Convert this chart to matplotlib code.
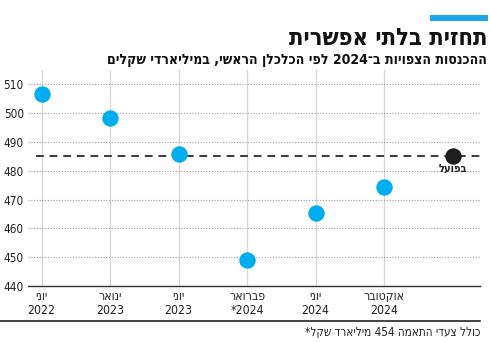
import re
import matplotlib
matplotlib.use("Agg")
import matplotlib.pyplot as plt

# ---- data ----
months = ["יוני", "ינואר", "יוני", "פברואר", "יוני", "אוקטובר"]
years = ["2022", "2023", "2023", "2024*", "2024", "2024"]
forecasts = [506.5, 498.5, 486.0, 449.0, 465.5, 474.5]
actual_label = "בפועל"
actual_value = 485.0
yticks = [440, 450, 460, 470, 480, 490, 500, 510]
title = "תחזית בלתי אפשרית"
subtitle = "ההכנסות הצפויות ב־2024 לפי הכלכלן הראשי, במיליארדי שקלים"
footnote = "כולל צעדי התאמה 454 מיליארד שקל*"


def vis(s):
    """Convert logical RTL text to visual order (simple bidi)."""
    r = s[::-1]
    return re.sub(r"[0-9][0-9.,]*[0-9]|[0-9]", lambda m: m.group(0)[::-1], r)


plt.rcParams["font.family"] = ["DejaVu Sans"]
plt.rcParams["font.stretch"] = "condensed"

fig = plt.figure(figsize=(4.9, 3.43), dpi=100)
ax = fig.add_axes([28 / 490, 1 - 286 / 343, (480 - 28) / 490, (286 - 70) / 343])

xs = list(range(len(forecasts)))
ax.set_xlim(-0.2, 6.4)
ax.set_ylim(440, 515)

for x in xs:
    ax.axvline(x, color="#d6d6d6", lw=0.9, zorder=1)
for y in yticks[1:]:
    ax.axhline(y, color="#9a9a9a", lw=0.8, ls=(0, (1, 1.5)), zorder=1)

ax.plot([-0.08, 6.4], [actual_value, actual_value], color="#3a3a3a", lw=1.4,
        ls=(0, (4, 3)), zorder=2)

ax.scatter(xs, forecasts, s=140, color="#00aeef", zorder=3, linewidths=0)
ax.scatter([6], [actual_value], s=140, color="#1e1e1e", zorder=3, linewidths=0)
ax.text(6, actual_value - 2.6, vis(actual_label), ha="center", va="top",
        fontsize=8, fontweight="bold", color="#222222")

for sp in ["top", "right", "left"]:
    ax.spines[sp].set_visible(False)
ax.spines["bottom"].set_color("#333333")
ax.spines["bottom"].set_linewidth(1.0)

ax.set_yticks(yticks)
ax.set_yticklabels([str(v) for v in yticks], fontsize=8.5, color="#222222")
ax.tick_params(axis="y", length=0, pad=3)
ax.set_xticks(xs)
ax.set_xticklabels([vis(m) + "\n" + vis(y) for m, y in zip(months, years)],
                   fontsize=8.8, color="#222222", linespacing=1.05)
ax.tick_params(axis="x", length=0, pad=3)

# header
fig.add_artist(plt.Rectangle((430 / 490, 1 - 21 / 343), 58 / 490, 6 / 343,
                             transform=fig.transFigure, color="#1aa6e8", lw=0))
fig.text(487 / 490, 1 - 38 / 343, vis(title), ha="right", va="center",
         fontsize=17, fontweight="bold", color="#111111")
fig.text(487 / 490, 1 - 60 / 343, vis(subtitle), ha="right", va="center",
         fontsize=10.1, fontweight="bold", color="#111111")

# footer
fig.add_artist(plt.Line2D([0, 480 / 490], [1 - 321 / 343, 1 - 321 / 343],
                          transform=fig.transFigure, color="#222222", lw=1.2))
fig.text(480 / 490, 1 - 333 / 343, vis(footnote), ha="right", va="center",
         fontsize=8.4, color="#222222")

fig.savefig("out.png", dpi=100)
